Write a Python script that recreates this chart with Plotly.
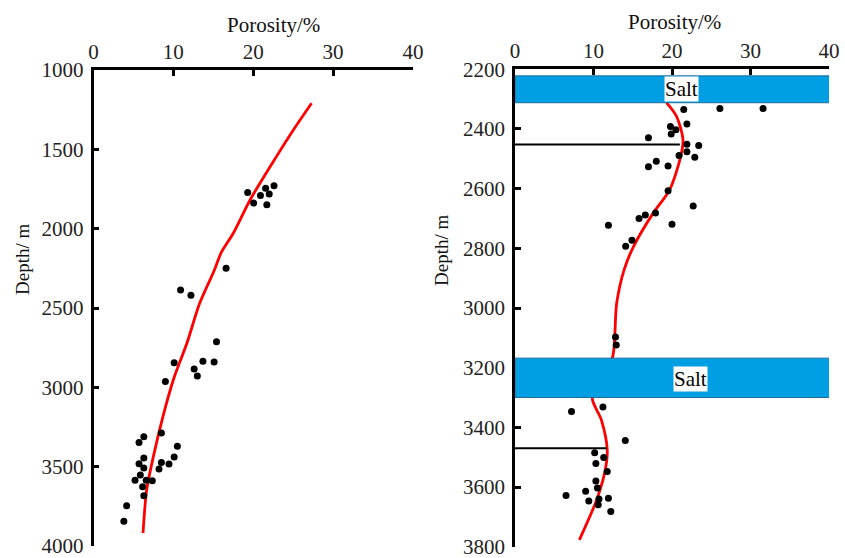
import plotly.graph_objects as go

# ---------------- data ----------------
# Left panel: porosity (%) vs depth (m)
left_por = [19.3, 20.05, 20.9, 21.55, 22.0, 21.7, 22.6, 16.6,
            10.9, 12.2, 15.4, 10.1, 12.6, 13.0, 13.7, 15.1, 9.0,
            8.5, 6.3, 5.7, 10.5, 6.3, 10.1, 5.7, 8.5, 9.45, 6.3, 8.2,
            5.86, 5.2, 6.6, 7.36, 6.15, 6.3, 4.15, 3.8]
left_depth = [1772, 1839, 1791, 1745, 1781, 1850, 1730, 2249,
              2387, 2419, 2713, 2845, 2885, 2929, 2835, 2841, 2963,
              3288, 3311, 3347, 3372, 3445, 3439, 3481, 3473, 3483, 3508, 3514,
              3552, 3586, 3586, 3588, 3626, 3683, 3746, 3844]
left_fit_por = [27.3, 25.0, 22.9, 19.6, 17.5, 16.0, 15.1, 13.3, 11.7, 10.0, 8.7, 7.5, 6.66, 6.2]
left_fit_depth = [1210, 1380, 1546, 1819, 2029, 2150, 2265, 2469, 2721, 2952, 3183, 3435, 3645, 3918]

# Right panel
right_por = [21.5, 26.1, 31.6, 21.9, 19.8, 20.5, 19.9, 17.0, 21.9, 23.4, 21.9, 20.9,
             22.9, 18.0, 17.0, 19.5, 19.5, 22.7, 17.9, 16.6, 15.8, 11.9, 20.0, 14.9, 14.1,
             12.8, 12.9, 11.2, 7.2, 14.05, 10.15, 11.3, 10.3, 11.75, 10.3, 10.5, 9.0,
             6.5, 11.9, 9.4, 10.7, 10.6, 12.2]
right_depth = [2335, 2331, 2331, 2383, 2392, 2403, 2417, 2429, 2451, 2455, 2476, 2489,
               2495, 2508, 2527, 2524, 2607, 2658, 2682, 2688, 2700, 2723, 2719, 2773, 2793,
               3097, 3124, 3332, 3347, 3444, 3485, 3501, 3521, 3548, 3580, 3603, 3614,
               3628, 3638, 3647, 3640, 3659, 3682]
right_fit_por = [19.3, 20.6, 21.4, 21.1, 19.7, 17.6, 15.1, 13.9, 12.95, 12.45, 11.2, 9.85,
                 11.0, 11.75, 11.5, 10.4, 8.2]
right_fit_depth = [2312, 2359, 2437, 2493, 2604, 2682, 2794, 2872, 2984, 3163, 3235, 3302,
                   3375, 3475, 3542, 3643, 3777]

# salt layers (right panel): top, bottom depth, label position
salt_top = [2222, 3168]
salt_bottom = [2312, 3300]
salt_label_por = [21.2, 22.3]
salt_label_depth = [2267, 3238]
# horizontal boundary lines: depth, porosity end
bound_depth = [2452, 3470]
bound_por_end = [21.0, 11.7]

x_ticks = [0, 10, 20, 30, 40]
left_y_ticks = [1000, 1500, 2000, 2500, 3000, 3500, 4000]
right_y_ticks = [2200, 2400, 2600, 2800, 3000, 3200, 3400, 3600, 3800]

# ---------------- figure ----------------
W, H = 845, 558
FONT = "Liberation Serif"

fig = go.Figure()

# left panel
fig.add_trace(go.Scatter(x=left_fit_por, y=left_fit_depth, mode="lines",
                         line=dict(color="#ff0000", width=2.8, shape="spline", smoothing=0.8),
                         xaxis="x", yaxis="y", showlegend=False, hoverinfo="skip"))
fig.add_trace(go.Scatter(x=left_por, y=left_depth, mode="markers",
                         marker=dict(color="black", size=7),
                         xaxis="x", yaxis="y", showlegend=False))

# right panel
fig.add_trace(go.Scatter(x=right_fit_por, y=right_fit_depth, mode="lines",
                         line=dict(color="#ff0000", width=2.8, shape="spline", smoothing=0.8),
                         xaxis="x2", yaxis="y2", showlegend=False, hoverinfo="skip"))
fig.add_trace(go.Scatter(x=right_por, y=right_depth, mode="markers",
                         marker=dict(color="black", size=7),
                         xaxis="x2", yaxis="y2", showlegend=False))
for d, pe in zip(bound_depth, bound_por_end):
    fig.add_trace(go.Scatter(x=[0, pe], y=[d, d], mode="lines",
                             line=dict(color="black", width=2),
                             xaxis="x2", yaxis="y2", showlegend=False, hoverinfo="skip"))

shapes = []
for t, b in zip(salt_top, salt_bottom):
    shapes.append(dict(type="rect", xref="x2", yref="y2", x0=0, x1=40.2, y0=t, y1=b,
                       fillcolor="#009fe3", line=dict(color="#1b6e9c", width=1),
                       layer="above"))

annotations = []
for px, dy in zip(salt_label_por, salt_label_depth):
    annotations.append(dict(x=px, y=dy, xref="x2", yref="y2", text="Salt",
                            showarrow=False, bgcolor="white", borderpad=0,
                            xanchor="center", yanchor="middle",
                            font=dict(family=FONT, size=21, color="black")))
# axis titles
title_font = dict(family=FONT, size=21, color="#111")
annotations.append(dict(x=273 / W, y=1 - 25 / H, xref="paper", yref="paper",
                        text="Porosity/%", showarrow=False, xanchor="center", yanchor="middle",
                        font=title_font))
annotations.append(dict(x=674 / W, y=1 - 22 / H, xref="paper", yref="paper",
                        text="Porosity/%", showarrow=False, xanchor="center", yanchor="middle",
                        font=title_font))
annotations.append(dict(x=22 / W, y=1 - 260 / H, xref="paper", yref="paper",
                        text="Depth/ m", showarrow=False, textangle=-90,
                        xanchor="center", yanchor="middle",
                        font=dict(family=FONT, size=19, color="#111")))
annotations.append(dict(x=442 / W, y=1 - 251 / H, xref="paper", yref="paper",
                        text="Depth/ m", showarrow=False, textangle=-90,
                        xanchor="center", yanchor="middle",
                        font=dict(family=FONT, size=19, color="#111")))

axis_common = dict(showgrid=False, zeroline=False, showline=True, linecolor="black",
                   linewidth=2.5, ticks="inside", ticklen=6, tickwidth=2.5,
                   tickcolor="black", automargin=False, ticklabeloverflow="allow",
                   tickfont=dict(family=FONT, size=21, color="#222"))

fig.update_layout(
    width=W, height=H, margin=dict(l=0, r=0, t=0, b=0),
    paper_bgcolor="white", plot_bgcolor="white",
    font=dict(family=FONT),
    xaxis=dict(domain=[93.5 / W, 413 / W], range=[0, 40], side="top", anchor="y",
               tickvals=x_ticks, **axis_common),
    yaxis=dict(domain=[(H - 546) / H, (H - 70) / H], range=[4000, 1000], anchor="x",
               tickvals=left_y_ticks, ticklabelstandoff=3, **axis_common),
    xaxis2=dict(domain=[515 / W, 829 / W], range=[0, 40], side="top", anchor="y2",
                tickvals=x_ticks, **axis_common),
    yaxis2=dict(domain=[(H - 546.7) / H, (H - 69.3) / H], range=[3800, 2200], anchor="x2",
                tickvals=right_y_ticks, ticklabelstandoff=3, **axis_common),
    shapes=shapes, annotations=annotations,
)

fig.write_html("out.html", config={"displayModeBar": False},
               post_script="document.body.style.margin='0px';")
